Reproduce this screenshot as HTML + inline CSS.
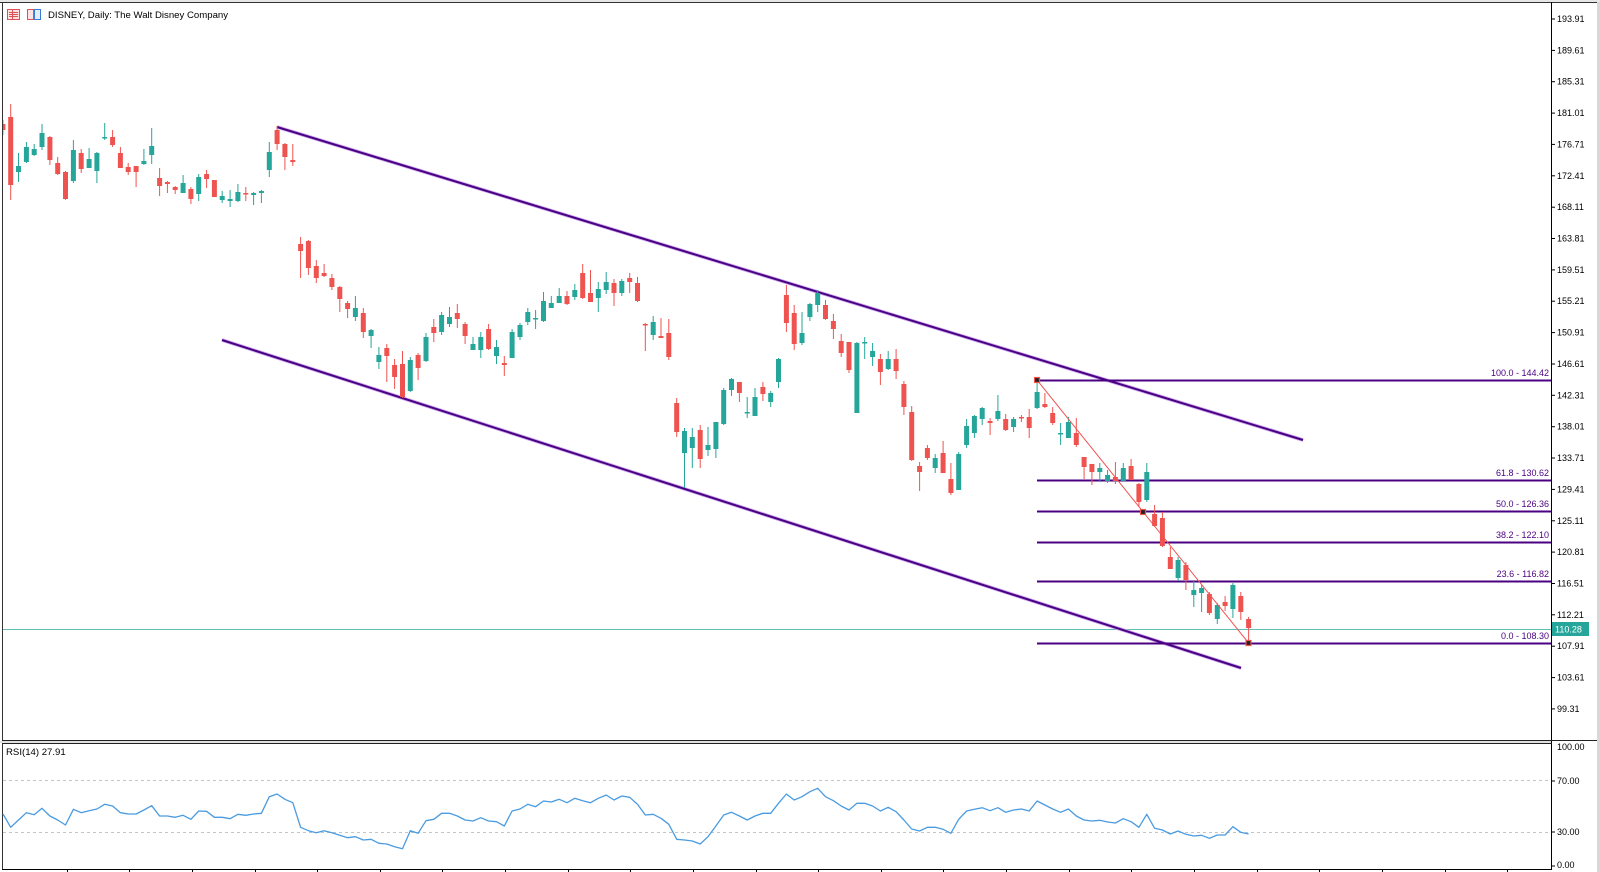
<!DOCTYPE html>
<html><head><meta charset="utf-8"><style>
html,body{margin:0;padding:0;background:#fff;}
svg{display:block;font-family:"Liberation Sans",sans-serif;}
</style></head><body>
<svg width="1600" height="872" viewBox="0 0 1600 872" xmlns="http://www.w3.org/2000/svg">
<rect x="0" y="0" width="1600" height="872" fill="#fff"/>
<rect x="1597" y="0" width="3" height="872" fill="#d8d8d8"/>
<rect x="0" y="0" width="1600" height="2" fill="#e6e6e6"/>
<line x1="0" y1="2.5" x2="1597" y2="2.5" stroke="#333" stroke-width="1"/>
<line x1="2.5" y1="2" x2="2.5" y2="870" stroke="#333" stroke-width="1"/>
<line x1="1551.5" y1="2" x2="1551.5" y2="870" stroke="#000" stroke-width="1"/>
<rect x="0" y="741" width="1551" height="2" fill="#e0e0e0"/>
<line x1="2" y1="740.5" x2="1597" y2="740.5" stroke="#222" stroke-width="1"/>
<line x1="2" y1="743.5" x2="1552" y2="743.5" stroke="#222" stroke-width="1"/>
<line x1="2" y1="869.5" x2="1552" y2="869.5" stroke="#000" stroke-width="1"/>

<!-- title -->
<g>
<rect x="7.5" y="9.5" width="12" height="10" fill="#fde3e3" stroke="#e05252" stroke-width="1"/>
<line x1="9" y1="12.5" x2="18" y2="12.5" stroke="#e05252"/><line x1="9" y1="14.5" x2="18" y2="14.5" stroke="#e05252"/><line x1="9" y1="16.5" x2="18" y2="16.5" stroke="#e05252"/>
<line x1="12.5" y1="10" x2="12.5" y2="19" stroke="#e05252"/>
<rect x="27.5" y="9.5" width="6" height="10" fill="#fde3e3" stroke="#e05252" stroke-width="1"/>
<rect x="34.5" y="9.5" width="6" height="10" fill="#e3eefc" stroke="#3a7bd5" stroke-width="1"/>
<text x="48" y="18" font-size="9.6" fill="#000">DISNEY, Daily:  The Walt Disney Company</text>
</g>

<!-- price axis -->
<g font-size="9" fill="#000">
<g stroke="#000" stroke-width="1">
<line x1="1551" y1="19" x2="1555" y2="19"/><line x1="1551" y1="50.4" x2="1555" y2="50.4"/><line x1="1551" y1="81.7" x2="1555" y2="81.7"/><line x1="1551" y1="113.1" x2="1555" y2="113.1"/><line x1="1551" y1="144.4" x2="1555" y2="144.4"/><line x1="1551" y1="175.8" x2="1555" y2="175.8"/><line x1="1551" y1="207.2" x2="1555" y2="207.2"/><line x1="1551" y1="238.5" x2="1555" y2="238.5"/><line x1="1551" y1="269.9" x2="1555" y2="269.9"/><line x1="1551" y1="301.2" x2="1555" y2="301.2"/><line x1="1551" y1="332.6" x2="1555" y2="332.6"/><line x1="1551" y1="364" x2="1555" y2="364"/><line x1="1551" y1="395.3" x2="1555" y2="395.3"/><line x1="1551" y1="426.7" x2="1555" y2="426.7"/><line x1="1551" y1="458" x2="1555" y2="458"/><line x1="1551" y1="489.4" x2="1555" y2="489.4"/><line x1="1551" y1="520.8" x2="1555" y2="520.8"/><line x1="1551" y1="552.1" x2="1555" y2="552.1"/><line x1="1551" y1="583.5" x2="1555" y2="583.5"/><line x1="1551" y1="614.8" x2="1555" y2="614.8"/><line x1="1551" y1="646.2" x2="1555" y2="646.2"/><line x1="1551" y1="677.6" x2="1555" y2="677.6"/><line x1="1551" y1="708.9" x2="1555" y2="708.9"/>
<line x1="1551" y1="781" x2="1555" y2="781"/><line x1="1551" y1="832" x2="1555" y2="832"/><line x1="1551" y1="866" x2="1555" y2="866"/>
</g>
<text x="1557" y="22">193.91</text><text x="1557" y="53.4">189.61</text><text x="1557" y="84.7">185.31</text><text x="1557" y="116.1">181.01</text><text x="1557" y="147.4">176.71</text><text x="1557" y="178.8">172.41</text><text x="1557" y="210.2">168.11</text><text x="1557" y="241.5">163.81</text><text x="1557" y="272.9">159.51</text><text x="1557" y="304.2">155.21</text><text x="1557" y="335.6">150.91</text><text x="1557" y="367">146.61</text><text x="1557" y="398.3">142.31</text><text x="1557" y="429.7">138.01</text><text x="1557" y="461">133.71</text><text x="1557" y="492.4">129.41</text><text x="1557" y="523.8">125.11</text><text x="1557" y="555.1">120.81</text><text x="1557" y="586.5">116.51</text><text x="1557" y="617.8">112.21</text><text x="1557" y="649.2">107.91</text><text x="1557" y="680.6">103.61</text><text x="1557" y="711.9">99.31</text>
<text x="1557" y="750">100.00</text><text x="1557" y="784">70.00</text><text x="1557" y="835">30.00</text><text x="1557" y="868">0.00</text>
</g>

<!-- main chart -->
<defs><clipPath id="mc"><rect x="3" y="3" width="1548" height="737"/></clipPath></defs>
<g clip-path="url(#mc)">
<!-- current price line -->
<line x1="3" y1="629.5" x2="1551" y2="629.5" stroke="#5fbfb5" stroke-width="1"/>
<!-- channel -->
<line x1="277" y1="127" x2="1303" y2="440" stroke="#c9a6f0" stroke-width="3.6"/>
<line x1="277" y1="127" x2="1303" y2="440" stroke="#4b0082" stroke-width="2"/>
<line x1="222" y1="340" x2="1241" y2="668" stroke="#c9a6f0" stroke-width="3.6"/>
<line x1="222" y1="340" x2="1241" y2="668" stroke="#4b0082" stroke-width="2"/>
<!-- fib -->
<g stroke="#4b0082" stroke-width="2">
<line x1="1037" y1="380.5" x2="1551" y2="380.5"/>
<line x1="1037" y1="480.5" x2="1551" y2="480.5"/>
<line x1="1037" y1="511.5" x2="1551" y2="511.5"/>
<line x1="1037" y1="542.5" x2="1551" y2="542.5"/>
<line x1="1037" y1="581.5" x2="1551" y2="581.5"/>
<line x1="1037" y1="643.5" x2="1551" y2="643.5"/>
</g>
<g font-size="9" fill="#4b0082" text-anchor="end">
<text x="1549" y="376">100.0 - 144.42</text>
<text x="1549" y="476">61.8 - 130.62</text>
<text x="1549" y="507">50.0 - 126.36</text>
<text x="1549" y="538">38.2 - 122.10</text>
<text x="1549" y="577">23.6 - 116.82</text>
<text x="1549" y="639">0.0 - 108.30</text>
</g>

<!-- candles -->
<g id="candles">
<g fill="#ef5350" stroke="none">
<!-- reds: wick then body -->
<rect x="2.4" y="120" width="1" height="15"/><rect x="0.4" y="124" width="5" height="6"/>
<rect x="10.2" y="104" width="1" height="96"/><rect x="8.2" y="117" width="5" height="68"/>
<rect x="49.4" y="136" width="1" height="29"/><rect x="47.4" y="137" width="5" height="23"/>
<rect x="57.2" y="157" width="1" height="18"/><rect x="55.2" y="163" width="5" height="11"/>
<rect x="65" y="171" width="1" height="29"/><rect x="63" y="172" width="5" height="27"/>
<rect x="80.7" y="149" width="1" height="24"/><rect x="78.7" y="153" width="5" height="16"/>
<rect x="112.1" y="130" width="1" height="17"/><rect x="110.1" y="137" width="5" height="8"/>
<rect x="119.9" y="147" width="1" height="21"/><rect x="117.9" y="153" width="5" height="15"/>
<rect x="127.7" y="163" width="1" height="12"/><rect x="125.7" y="167" width="5" height="5"/>
<rect x="135.6" y="166" width="1" height="21"/><rect x="133.6" y="166" width="5" height="6"/>
<rect x="159.1" y="168" width="1" height="28"/><rect x="157.1" y="178" width="5" height="8"/>
<rect x="166.9" y="181" width="1" height="12"/><rect x="164.9" y="182" width="5" height="2"/>
<rect x="174.7" y="186" width="1" height="8"/><rect x="172.7" y="187" width="5" height="3"/>
<rect x="190.4" y="187" width="1" height="17"/><rect x="188.4" y="189" width="5" height="10"/>
<rect x="206.1" y="170" width="1" height="18"/><rect x="204.1" y="174" width="5" height="5"/>
<rect x="213.9" y="180" width="1" height="17"/><rect x="211.9" y="180" width="5" height="17"/>
<rect x="245.3" y="187" width="1" height="14"/><rect x="243.3" y="193" width="5" height="1.5"/>
<rect x="276.6" y="126" width="1" height="24"/><rect x="274.6" y="130" width="5" height="14"/>
<rect x="284.4" y="143" width="1" height="27"/><rect x="282.4" y="144" width="5" height="13"/>
<rect x="292.3" y="144" width="1" height="22"/><rect x="290.3" y="160" width="5" height="2"/>
<rect x="300.1" y="237" width="1" height="41"/><rect x="298.1" y="244" width="5" height="7"/>
<rect x="307.9" y="240" width="1" height="35"/><rect x="305.9" y="241" width="5" height="27"/>
<rect x="315.8" y="260" width="1" height="23"/><rect x="313.8" y="266" width="5" height="12"/>
<rect x="323.6" y="264" width="1" height="13"/><rect x="321.6" y="273" width="5" height="3"/>
<rect x="331.4" y="274" width="1" height="16"/><rect x="329.4" y="278" width="5" height="9"/>
<rect x="339.3" y="286" width="1" height="26"/><rect x="337.3" y="287" width="5" height="12"/>
<rect x="347.1" y="301" width="1" height="17"/><rect x="345.1" y="303" width="5" height="6"/>
<rect x="362.8" y="308" width="1" height="30"/><rect x="360.8" y="313" width="5" height="19"/>
<rect x="386.3" y="344" width="1" height="38"/><rect x="384.3" y="348" width="5" height="8"/>
<rect x="394.1" y="359" width="1" height="30"/><rect x="392.1" y="365" width="5" height="12"/>
<rect x="402" y="351" width="1" height="47"/><rect x="400" y="364" width="5" height="33"/>
<rect x="417.6" y="353" width="1" height="27"/><rect x="415.6" y="355" width="5" height="13"/>
<rect x="433.3" y="319" width="1" height="23"/><rect x="431.3" y="327" width="5" height="6"/>
<rect x="456.8" y="304" width="1" height="24"/><rect x="454.8" y="313" width="5" height="6"/>
<rect x="464.6" y="322" width="1" height="22"/><rect x="462.6" y="324" width="5" height="12"/>
<rect x="488.1" y="324" width="1" height="26"/><rect x="486.1" y="329" width="5" height="20"/>
<rect x="503.8" y="356" width="1" height="20"/><rect x="501.8" y="363" width="5" height="2"/>
<rect x="566.5" y="291" width="1" height="14"/><rect x="564.5" y="296" width="5" height="8"/>
<rect x="582.2" y="264" width="1" height="35"/><rect x="580.2" y="273" width="5" height="25"/>
<rect x="590" y="270" width="1" height="32"/><rect x="588" y="293" width="5" height="9"/>
<rect x="613.5" y="279" width="1" height="27"/><rect x="611.5" y="283" width="5" height="10"/>
<rect x="629.2" y="273" width="1" height="20"/><rect x="627.2" y="278" width="5" height="4"/>
<rect x="637" y="277" width="1" height="25"/><rect x="635" y="283" width="5" height="18"/>
<rect x="644.8" y="323" width="1" height="28"/><rect x="642.8" y="324" width="5" height="1.5"/>
<rect x="660.5" y="318" width="1" height="20"/><rect x="658.5" y="336" width="5" height="2"/>
<rect x="668.3" y="319" width="1" height="41"/><rect x="666.3" y="333" width="5" height="24"/>
<rect x="676.2" y="398" width="1" height="39"/><rect x="674.2" y="403" width="5" height="29"/>
<rect x="699.7" y="425" width="1" height="43"/><rect x="697.7" y="430" width="5" height="29"/>
<rect x="738.9" y="382" width="1" height="20"/><rect x="736.9" y="382" width="5" height="11"/>
<rect x="762.4" y="382" width="1" height="19"/><rect x="760.4" y="387" width="5" height="7"/>
<rect x="785.9" y="285" width="1" height="47"/><rect x="783.9" y="295" width="5" height="28"/>
<rect x="793.7" y="305" width="1" height="45"/><rect x="791.7" y="313" width="5" height="31"/>
<rect x="825" y="300" width="1" height="20"/><rect x="823" y="305" width="5" height="14"/>
<rect x="832.9" y="314" width="1" height="25"/><rect x="830.9" y="321" width="5" height="8"/>
<rect x="840.7" y="334" width="1" height="23"/><rect x="838.7" y="341" width="5" height="12"/>
<rect x="848.5" y="342" width="1" height="31"/><rect x="846.5" y="342" width="5" height="28"/>
<rect x="879.9" y="354" width="1" height="31"/><rect x="877.9" y="359" width="5" height="13"/>
<rect x="895.6" y="349" width="1" height="30"/><rect x="893.6" y="359" width="5" height="12"/>
<rect x="903.4" y="381" width="1" height="34"/><rect x="901.4" y="384" width="5" height="23"/>
<rect x="911.2" y="406" width="1" height="55"/><rect x="909.2" y="412" width="5" height="48"/>
<rect x="919.1" y="462" width="1" height="29"/><rect x="917.1" y="466" width="5" height="6"/>
<rect x="926.9" y="445" width="1" height="15"/><rect x="924.9" y="448" width="5" height="10"/>
<rect x="942.6" y="441" width="1" height="32"/><rect x="940.6" y="453" width="5" height="20"/>
<rect x="950.4" y="463" width="1" height="32"/><rect x="948.4" y="479" width="5" height="14"/>
<rect x="989.6" y="418" width="1" height="17"/><rect x="987.6" y="421" width="5" height="2"/>
<rect x="1005.2" y="414" width="1" height="17"/><rect x="1003.2" y="419" width="5" height="11"/>
<rect x="1020.9" y="415" width="1" height="7"/><rect x="1018.9" y="417" width="5" height="1.5"/>
<rect x="1028.7" y="409" width="1" height="29"/><rect x="1026.7" y="417" width="5" height="11"/>
<rect x="1044.4" y="393" width="1" height="15"/><rect x="1042.4" y="404" width="5" height="3"/>
<rect x="1052.2" y="407" width="1" height="18"/><rect x="1050.2" y="413" width="5" height="10"/>
<rect x="1075.8" y="418" width="1" height="29"/><rect x="1073.8" y="433" width="5" height="12"/>
<rect x="1083.6" y="457" width="1" height="22"/><rect x="1081.6" y="457" width="5" height="10"/>
<rect x="1091.4" y="464" width="1" height="21"/><rect x="1089.4" y="464" width="5" height="8"/>
<rect x="1114.9" y="462" width="1" height="22"/><rect x="1112.9" y="477" width="5" height="4"/>
<rect x="1130.6" y="459" width="1" height="21"/><rect x="1128.6" y="466" width="5" height="14"/>
<rect x="1138.4" y="483" width="1" height="24"/><rect x="1136.4" y="484" width="5" height="18"/>
<rect x="1154.1" y="505" width="1" height="22"/><rect x="1152.1" y="514" width="5" height="12"/>
<rect x="1161.9" y="512" width="1" height="35"/><rect x="1159.9" y="518" width="5" height="28"/>
<rect x="1169.8" y="547" width="1" height="22"/><rect x="1167.8" y="557" width="5" height="12"/>
<rect x="1185.4" y="562" width="1" height="28"/><rect x="1183.4" y="565" width="5" height="15"/>
<rect x="1208.9" y="592" width="1" height="23"/><rect x="1206.9" y="594" width="5" height="19"/>
<rect x="1224.6" y="596" width="1" height="15"/><rect x="1222.6" y="602" width="5" height="4"/>
<rect x="1240.3" y="592" width="1" height="28"/><rect x="1238.3" y="596" width="5" height="16"/>
<rect x="1248.1" y="617" width="1" height="26"/><rect x="1246.1" y="619" width="5" height="9"/>
</g>
<g fill="#26a69a" stroke="none">
<rect x="18" y="153" width="1" height="29"/><rect x="16" y="166" width="5" height="6"/>
<rect x="25.9" y="142" width="1" height="21"/><rect x="23.9" y="147" width="5" height="15"/>
<rect x="33.7" y="144" width="1" height="12"/><rect x="31.7" y="149" width="5" height="6"/>
<rect x="41.5" y="124" width="1" height="26"/><rect x="39.5" y="133" width="5" height="14"/>
<rect x="72.9" y="140" width="1" height="43"/><rect x="70.9" y="150" width="5" height="31"/>
<rect x="88.6" y="148" width="1" height="20"/><rect x="86.6" y="159" width="5" height="9"/>
<rect x="96.4" y="152" width="1" height="31"/><rect x="94.4" y="153" width="5" height="18"/>
<rect x="104.2" y="123" width="1" height="17"/><rect x="102.2" y="137" width="5" height="1.5"/>
<rect x="143.4" y="149" width="1" height="16"/><rect x="141.4" y="161" width="5" height="3"/>
<rect x="151.2" y="128" width="1" height="36"/><rect x="149.2" y="146" width="5" height="9"/>
<rect x="182.6" y="175" width="1" height="18"/><rect x="180.6" y="183" width="5" height="10"/>
<rect x="198.2" y="174" width="1" height="27"/><rect x="196.2" y="177" width="5" height="17"/>
<rect x="221.7" y="191" width="1" height="12"/><rect x="219.7" y="196" width="5" height="4"/>
<rect x="229.6" y="190" width="1" height="17"/><rect x="227.6" y="199" width="5" height="2"/>
<rect x="237.4" y="184" width="1" height="18"/><rect x="235.4" y="192" width="5" height="9"/>
<rect x="253.1" y="192" width="1" height="13"/><rect x="251.1" y="193" width="5" height="2"/>
<rect x="260.9" y="190" width="1" height="13"/><rect x="258.9" y="191" width="5" height="2"/>
<rect x="268.8" y="142" width="1" height="35"/><rect x="266.8" y="152" width="5" height="18"/>
<rect x="354.9" y="296" width="1" height="25"/><rect x="352.9" y="308" width="5" height="9"/>
<rect x="370.6" y="329" width="1" height="19"/><rect x="368.6" y="330" width="5" height="6"/>
<rect x="378.4" y="347" width="1" height="22"/><rect x="376.4" y="355" width="5" height="7"/>
<rect x="409.8" y="357" width="1" height="35"/><rect x="407.8" y="360" width="5" height="31"/>
<rect x="425.5" y="333" width="1" height="29"/><rect x="423.5" y="337" width="5" height="24"/>
<rect x="441.1" y="312" width="1" height="23"/><rect x="439.1" y="315" width="5" height="17"/>
<rect x="449" y="307" width="1" height="20"/><rect x="447" y="317" width="5" height="7"/>
<rect x="472.5" y="337" width="1" height="13"/><rect x="470.5" y="344" width="5" height="6"/>
<rect x="480.3" y="332" width="1" height="26"/><rect x="478.3" y="337" width="5" height="13"/>
<rect x="496" y="340" width="1" height="24"/><rect x="494" y="347" width="5" height="9"/>
<rect x="511.6" y="329" width="1" height="29"/><rect x="509.6" y="332" width="5" height="26"/>
<rect x="519.5" y="323" width="1" height="17"/><rect x="517.5" y="325" width="5" height="12"/>
<rect x="527.3" y="308" width="1" height="17"/><rect x="525.3" y="312" width="5" height="10"/>
<rect x="535.1" y="310" width="1" height="19"/><rect x="533.1" y="318" width="5" height="1.5"/>
<rect x="543" y="292" width="1" height="30"/><rect x="541" y="301" width="5" height="20"/>
<rect x="550.8" y="296" width="1" height="12"/><rect x="548.8" y="303" width="5" height="5"/>
<rect x="558.7" y="288" width="1" height="15"/><rect x="556.7" y="296" width="5" height="7"/>
<rect x="574.3" y="284" width="1" height="16"/><rect x="572.3" y="290" width="5" height="7"/>
<rect x="597.8" y="282" width="1" height="30"/><rect x="595.8" y="289" width="5" height="9"/>
<rect x="605.7" y="272" width="1" height="22"/><rect x="603.7" y="282" width="5" height="8"/>
<rect x="621.3" y="279" width="1" height="17"/><rect x="619.3" y="281" width="5" height="12"/>
<rect x="652.7" y="316" width="1" height="24"/><rect x="650.7" y="322" width="5" height="13"/>
<rect x="684" y="428" width="1" height="60"/><rect x="682" y="431" width="5" height="22"/>
<rect x="691.8" y="428" width="1" height="40"/><rect x="689.8" y="437" width="5" height="11"/>
<rect x="707.5" y="427" width="1" height="29"/><rect x="705.5" y="445" width="5" height="5"/>
<rect x="715.4" y="422" width="1" height="36"/><rect x="713.4" y="422" width="5" height="27"/>
<rect x="723.2" y="388" width="1" height="37"/><rect x="721.2" y="390" width="5" height="34"/>
<rect x="731" y="378" width="1" height="18"/><rect x="729" y="379" width="5" height="11"/>
<rect x="746.7" y="397" width="1" height="21"/><rect x="744.7" y="412" width="5" height="1.5"/>
<rect x="754.5" y="388" width="1" height="28"/><rect x="752.5" y="397" width="5" height="19"/>
<rect x="770.2" y="391" width="1" height="16"/><rect x="768.2" y="393" width="5" height="9"/>
<rect x="778" y="358" width="1" height="30"/><rect x="776" y="359" width="5" height="23"/>
<rect x="801.5" y="312" width="1" height="33"/><rect x="799.5" y="333" width="5" height="10"/>
<rect x="809.4" y="303" width="1" height="18"/><rect x="807.4" y="304" width="5" height="13"/>
<rect x="817.2" y="290" width="1" height="22"/><rect x="815.2" y="293" width="5" height="12"/>
<rect x="856.4" y="342" width="1" height="71"/><rect x="854.4" y="343" width="5" height="70"/>
<rect x="864.2" y="337" width="1" height="22"/><rect x="862.2" y="342" width="5" height="1.5"/>
<rect x="872.1" y="343" width="1" height="23"/><rect x="870.1" y="351" width="5" height="6"/>
<rect x="887.7" y="351" width="1" height="19"/><rect x="885.7" y="359" width="5" height="10"/>
<rect x="934.7" y="454" width="1" height="19"/><rect x="932.7" y="458" width="5" height="10"/>
<rect x="958.2" y="452" width="1" height="38"/><rect x="956.2" y="454" width="5" height="36"/>
<rect x="966.1" y="419" width="1" height="29"/><rect x="964.1" y="426" width="5" height="19"/>
<rect x="973.9" y="415" width="1" height="23"/><rect x="971.9" y="416" width="5" height="17"/>
<rect x="981.7" y="407" width="1" height="18"/><rect x="979.7" y="408" width="5" height="11"/>
<rect x="997.4" y="395" width="1" height="26"/><rect x="995.4" y="411" width="5" height="8"/>
<rect x="1013.1" y="417" width="1" height="15"/><rect x="1011.1" y="419" width="5" height="8"/>
<rect x="1036.6" y="379" width="1" height="30"/><rect x="1034.6" y="392" width="5" height="16"/>
<rect x="1060.1" y="423" width="1" height="22"/><rect x="1058.1" y="433" width="5" height="1.5"/>
<rect x="1067.9" y="417" width="1" height="21"/><rect x="1065.9" y="422" width="5" height="16"/>
<rect x="1099.3" y="463" width="1" height="19"/><rect x="1097.3" y="468" width="5" height="4"/>
<rect x="1107.1" y="470" width="1" height="13"/><rect x="1105.1" y="475" width="5" height="6"/>
<rect x="1122.8" y="463" width="1" height="18"/><rect x="1120.8" y="468" width="5" height="13"/>
<rect x="1146.3" y="463" width="1" height="39"/><rect x="1144.3" y="472" width="5" height="28"/>
<rect x="1177.6" y="557" width="1" height="24"/><rect x="1175.6" y="560" width="5" height="18"/>
<rect x="1193.3" y="581" width="1" height="26"/><rect x="1191.3" y="590" width="5" height="5"/>
<rect x="1201.1" y="585" width="1" height="27"/><rect x="1199.1" y="588" width="5" height="5"/>
<rect x="1216.8" y="603" width="1" height="21"/><rect x="1214.8" y="605" width="5" height="14"/>
<rect x="1232.4" y="583" width="1" height="35"/><rect x="1230.4" y="585" width="5" height="24"/>
</g>
</g>

<!-- fib diagonal -->
<line x1="1037" y1="380" x2="1248.6" y2="643" stroke="#ef5350" stroke-width="1"/>
<rect x="1034.5" y="377.5" width="5" height="5" fill="#222" stroke="#ef5350" stroke-width="1.2"/>
<rect x="1140.5" y="509.5" width="5" height="5" fill="#222" stroke="#ef5350" stroke-width="1.2"/>
<rect x="1246" y="640.5" width="5" height="5" fill="#222" stroke="#ef5350" stroke-width="1.2"/>
</g>

<!-- current price label -->
<rect x="1552" y="622" width="37" height="14" fill="#26a69a"/>
<text x="1555" y="632.5" font-size="9" fill="#fff">110.28</text>

<!-- RSI pane -->
<g clip-path="url(#rc)">
</g>
<defs><clipPath id="rc"><rect x="3" y="744" width="1548" height="125"/></clipPath></defs>
<line x1="3" y1="780.5" x2="1551" y2="780.5" stroke="#c4c4c4" stroke-width="1" stroke-dasharray="3,3"/>
<line x1="3" y1="832.5" x2="1551" y2="832.5" stroke="#c4c4c4" stroke-width="1" stroke-dasharray="3,3"/>
<text x="6" y="755" font-size="9.6" fill="#000">RSI(14) 27.91</text>
<polyline fill="none" stroke="#4a9be0" stroke-width="1.3" stroke-linejoin="round" points="
3,814 10.7,827.3 18.5,820 26.4,812.7 34.2,814.7 42,808.3 49.9,816 57.7,820 65.5,825 73.4,809.3 81.2,812.7 89.1,810.7 96.9,809 104.7,804.3 112.6,806 120.4,812.7 128.2,814 136.1,814 143.9,810 151.7,805.7 159.6,816 167.4,816 175.2,817.3 183.1,815.3 190.9,819.3 198.7,811 206.6,811.3 214.4,817.3 222.2,817.3 230.1,818.7 237.9,814.3 245.8,815.3 253.6,814 261.4,813.3 269.3,796.7 277.1,794 284.9,799.3 292.8,802.7 300.6,827.3 308.4,830.7 316.3,832.7 324.1,830.7 331.9,832.7 339.8,835.3 347.6,837.7 355.4,836.7 363.3,840 371.1,839.3 378.9,843.3 386.8,844 394.6,846.7 402.5,848.7 410.3,830.7 418.1,833.3 426,820.7 433.8,819.3 441.6,813.3 449.5,813.3 457.3,816 465.1,820 473,821 480.8,817.7 488.6,821 496.5,821.7 504.3,826 512.1,811 520,809 527.8,804.3 535.6,806.7 543.5,801 551.3,802 559.2,799.3 567,802.7 574.8,798.3 582.7,800.7 590.5,802.7 598.3,798.3 606.2,795 614,800 621.8,796 629.7,797.3 637.5,804.3 645.3,815 653.2,814.3 661,818.3 668.8,824.3 676.7,839.3 684.5,840 692.3,841 700.2,844 708,836.7 715.9,826 723.7,815 731.5,812.3 739.4,816 747.2,820 755,816 762.9,813.3 770.7,813.3 778.5,803.3 786.4,794 794.2,800 802,796.7 809.9,791.7 817.7,788.3 825.5,796.7 833.4,800.7 841.2,806 849,810 856.9,803.3 864.7,803.3 872.6,806 880.4,811 888.2,807.3 896.1,811.7 903.9,820 911.7,829 919.6,831 927.4,827.3 935.2,827.3 943.1,829.3 950.9,833.3 958.7,819.3 966.6,811 974.4,809.3 982.2,807.7 990.1,810.7 997.9,807.7 1005.7,812.3 1013.6,810 1021.4,809 1029.2,811 1037.1,801 1044.9,805 1052.7,809 1060.6,812.3 1068.4,809 1076.3,816 1084.1,820 1091.9,821 1099.8,820.3 1107.6,822 1115.4,823 1123.3,818.7 1131.1,821.7 1138.9,827.3 1146.8,814.3 1154.6,828.3 1162.4,830 1170.3,834 1178.1,831 1185.9,834.3 1193.8,836 1201.6,835.3 1209.4,838.3 1217.3,835 1225.1,835 1232.9,826.7 1240.8,832.3 1248.6,834"/>

<!-- bottom ticks -->
<g stroke="#000" stroke-width="1">
<line x1="67.5" y1="869" x2="67.5" y2="872"/><line x1="129.5" y1="869" x2="129.5" y2="872"/><line x1="192.5" y1="869" x2="192.5" y2="872"/><line x1="255.5" y1="869" x2="255.5" y2="872"/><line x1="317.5" y1="869" x2="317.5" y2="872"/><line x1="380.5" y1="869" x2="380.5" y2="872"/><line x1="442.5" y1="869" x2="442.5" y2="872"/><line x1="505.5" y1="869" x2="505.5" y2="872"/><line x1="568.5" y1="869" x2="568.5" y2="872"/><line x1="630.5" y1="869" x2="630.5" y2="872"/><line x1="693.5" y1="869" x2="693.5" y2="872"/><line x1="756.5" y1="869" x2="756.5" y2="872"/><line x1="818.5" y1="869" x2="818.5" y2="872"/><line x1="881.5" y1="869" x2="881.5" y2="872"/><line x1="943.5" y1="869" x2="943.5" y2="872"/><line x1="1006.5" y1="869" x2="1006.5" y2="872"/><line x1="1069.5" y1="869" x2="1069.5" y2="872"/><line x1="1131.5" y1="869" x2="1131.5" y2="872"/><line x1="1194.5" y1="869" x2="1194.5" y2="872"/><line x1="1257.5" y1="869" x2="1257.5" y2="872"/><line x1="1319.5" y1="869" x2="1319.5" y2="872"/><line x1="1382.5" y1="869" x2="1382.5" y2="872"/><line x1="1445.5" y1="869" x2="1445.5" y2="872"/><line x1="1507.5" y1="869" x2="1507.5" y2="872"/>
</g>
</svg>
</body></html>
